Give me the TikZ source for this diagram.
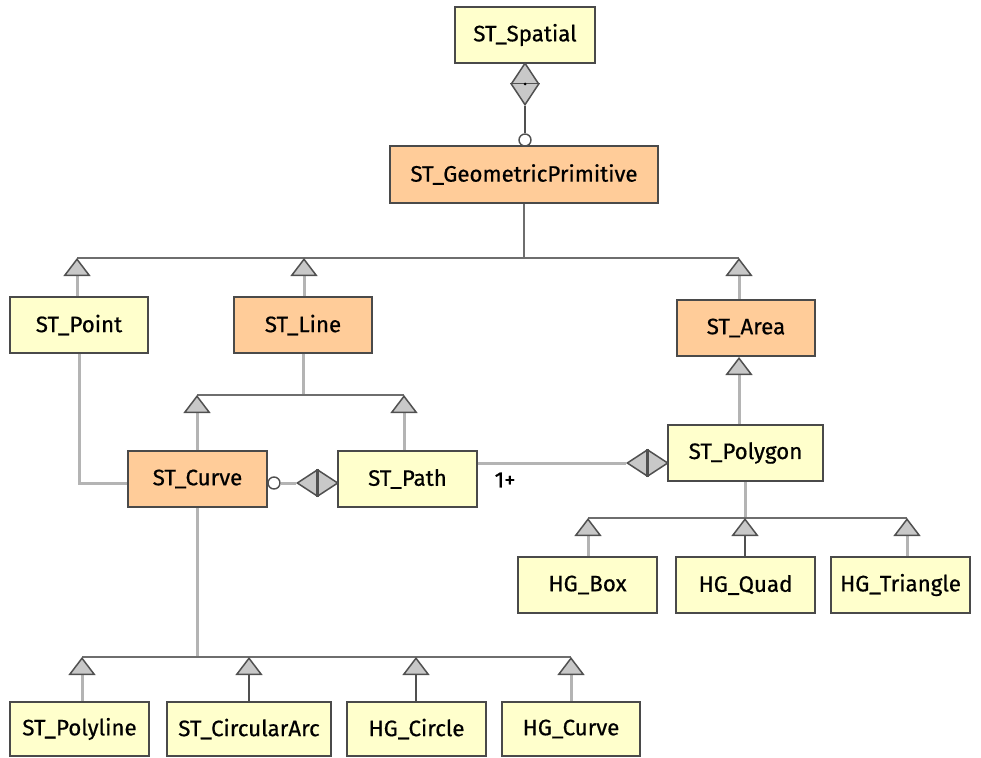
\documentclass[tikz,border=0pt]{standalone}
\usepackage{fontspec}
\setmainfont{Fira Sans}[FakeBold=0.6]
\usetikzlibrary{arrows.meta,shapes.geometric}
\definecolor{yel}{HTML}{FFFFCC}
\definecolor{ora}{HTML}{FFCC99}
\definecolor{edge}{HTML}{4A4A4A}
\definecolor{lgray}{HTML}{B4B4B4}
\definecolor{dgray}{HTML}{505050}
\definecolor{busgray}{HTML}{6E6E6E}
\definecolor{trifill}{HTML}{C8C8C8}
\begin{document}
\begin{tikzpicture}[x=1pt,y=-1pt,
  cls/.style={draw=edge,line width=1.7pt,minimum height=56pt,inner sep=0pt,
    font=\fontsize{22.3}{26}\selectfont},
  ylw/.style={cls,fill=yel},
  orn/.style={cls,fill=ora},
  lite/.style={draw=lgray,line width=3pt},
  dark/.style={draw=dgray,line width=2.3pt},
  bus/.style={draw=busgray,line width=2.7pt},
  tip/.style={-{Triangle[length=18pt,width=27pt,fill=trifill,color=dgray,line width=1.5pt]}},
  gen/.style={lite,tip},
  gendark/.style={dark,tip},
  hollow/.style={circle,draw=dgray,fill=white,line width=1.4pt,minimum size=12pt,inner sep=0pt},
  comp/.style={diamond,draw=dgray,fill=trifill,line width=1.5pt,inner sep=0pt},
  lbl/.style={font=\fontsize{22.3}{26}\selectfont,inner sep=0pt}
]
\useasboundingbox (0,0) rectangle (981,757);

% classes
\node[ylw, minimum width=140pt] (spatial) at (525,35) {ST\_Spatial};
\node[orn, minimum width=268pt, minimum height=57pt] (gp) at (524,174.5) {ST\_GeometricPrimitive};
\node[ylw, minimum width=138pt] (point) at (79,325) {ST\_Point};
\node[orn, minimum width=138pt] (line) at (303,325) {ST\_Line};
\node[orn, minimum width=138pt] (area) at (746,328) {ST\_Area};
\node[orn, minimum width=139pt] (curve) at (197.5,479) {ST\_Curve};
\node[ylw, minimum width=139pt] (path) at (407.5,479) {ST\_Path};
\node[ylw, minimum width=155pt] (polygon) at (745.5,453) {ST\_Polygon};
\node[ylw, minimum width=139pt] (box) at (587.5,585) {HG\_Box};
\node[ylw, minimum width=139pt] (quad) at (745.5,585) {HG\_Quad};
\node[ylw, minimum width=139pt] (tri) at (900.5,585) {HG\_Triangle};
\node[ylw, minimum width=139pt, minimum height=54pt] (polyline) at (79.5,729) {ST\_Polyline};
\node[ylw, minimum width=164pt, minimum height=54pt] (arc) at (249,729) {ST\_CircularArc};
\node[ylw, minimum width=139pt, minimum height=54pt] (circ) at (416.5,729) {HG\_Circle};
\node[ylw, minimum width=138pt, minimum height=54pt] (hgcurve) at (571,729) {HG\_Curve};

% ST_Spatial aggregation
\node[comp, minimum width=28pt, minimum height=42pt] (d1) at (525,84) {};
\node[hollow] (c1) at (525,140) {};
\draw[dark] (d1.south) -- (c1.north);
\draw[dgray,line width=1pt] (d1.west) -- (d1.east);
\fill[black] (d1.center) circle (1.5pt);

% bus 1
\coordinate (g1) at (77,258);
\coordinate (g2) at (304,258);
\coordinate (g3) at (739,258);
\draw[bus] (gp.south) -- (gp.south |- g1);
\draw[bus] (g1) -- (g3);
\draw[gen] (point.north -| g1) -- (g1);
\draw[gen] (line.north -| g2) -- (g2);
\draw[gen] (area.north -| g3) -- (g3);

% bus 2
\coordinate (h1) at (197,395);
\coordinate (h2) at (404,395);
\draw[lite] (line.south) -- (line.south |- h1);
\draw[bus] (h1) -- (h2);
\draw[gen] (curve.north -| h1) -- (h1);
\draw[gen] (path.north -| h2) -- (h2);

% area -> polygon
\coordinate (ga) at (739,357);
\draw[gen] (polygon.north -| ga) -- (ga);

% bus 3
\coordinate (k1) at (588,518);
\coordinate (k2) at (745,518);
\coordinate (k3) at (907,518);
\draw[lite] (polygon.south -| k2) -- (k2);
\draw[bus] (k1) -- (k3);
\draw[gen] (box.north -| k1) -- (k1);
\draw[gendark] (quad.north -| k2) -- (k2);
\draw[gen] (tri.north -| k3) -- (k3);

% bus 4
\coordinate (m1) at (82,657);
\coordinate (m2) at (249,657);
\coordinate (m3) at (416,657);
\coordinate (m4) at (571,657);
\draw[lite] (curve.south -| h1) -- (h1 |- m1);
\draw[bus] (m1) -- (m4);
\draw[gen] (polyline.north -| m1) -- (m1);
\draw[gendark] (arc.north -| m2) -- (m2);
\draw[gendark] (circ.north -| m3) -- (m3);
\draw[gen] (hgcurve.north -| m4) -- (m4);

% point -- curve
\node[hollow] (c2) at (274,483) {};
\draw[lite] (point.south) |- (curve.west |- c2.center);

% curve -- path composition
\node[comp, minimum width=41pt, minimum height=27pt] (d2) at (317.5,483) {};
\draw[lite] (c2.east) -- (d2.west);
\draw[dgray,line width=2.2pt] (d2.north) -- (d2.south);

% path -- polygon composition
\node[comp, minimum width=41pt, minimum height=27pt] (d3) at (647.5,463) {};
\draw[lite] (path.east |- d3.west) -- (d3.west);
\draw[dgray,line width=2.2pt] (d3.north) -- (d3.south);
\node[lbl] (mult) at (505,480) {1+};
\end{tikzpicture}
\end{document}
